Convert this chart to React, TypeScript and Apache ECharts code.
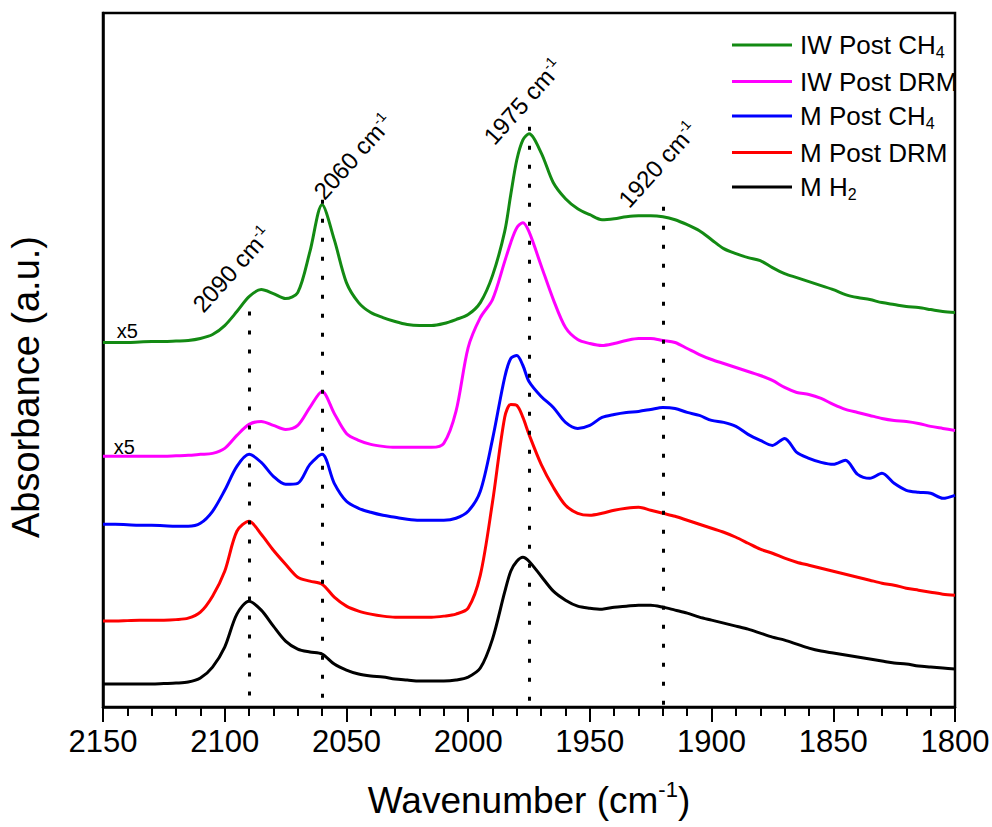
import React, { useEffect, useRef } from "react";
import * as echarts from "echarts";

// Wavenumber grid shared by all spectra (cm-1), high to low
const wavenumbers = [
  2150, 2145, 2140, 2135, 2130, 2125, 2120, 2115, 2110, 2105,
  2100, 2095, 2090, 2085, 2080, 2075, 2070, 2065, 2060, 2055,
  2050, 2045, 2040, 2035, 2030, 2025, 2020, 2015, 2010, 2005,
  2000, 1995, 1990, 1985, 1982.5, 1980, 1977.5, 1975, 1970, 1965,
  1960, 1955, 1950, 1945, 1940, 1935, 1930, 1925, 1920, 1915,
  1910, 1905, 1900, 1895, 1890, 1885, 1880, 1875, 1870, 1865,
  1860, 1855, 1850, 1845, 1840, 1835, 1830, 1825, 1820, 1815,
  1810, 1805, 1800,
];

// Offset absorbance traces (a.u.)
const iwPostCh4 = [
  0.730, 0.730, 0.730, 0.731, 0.732, 0.732, 0.733, 0.734, 0.738, 0.746,
  0.764, 0.792, 0.822, 0.836, 0.828, 0.818, 0.830, 0.912, 1.006, 0.936,
  0.850, 0.810, 0.790, 0.780, 0.772, 0.766, 0.764, 0.764, 0.768, 0.776,
  0.786, 0.810, 0.864, 0.952, 1.026, 1.096, 1.136, 1.148, 1.110, 1.050,
  1.018, 0.998, 0.986, 0.976, 0.978, 0.982, 0.984, 0.984, 0.982, 0.976,
  0.966, 0.954, 0.936, 0.918, 0.908, 0.900, 0.894, 0.880, 0.868, 0.860,
  0.852, 0.844, 0.836, 0.826, 0.820, 0.816, 0.810, 0.806, 0.802, 0.800,
  0.796, 0.792, 0.790,
];

const iwPostDrm = [
  0.502, 0.502, 0.502, 0.502, 0.502, 0.502, 0.503, 0.504, 0.506, 0.508,
  0.518, 0.544, 0.566, 0.572, 0.564, 0.556, 0.564, 0.600, 0.632, 0.588,
  0.548, 0.534, 0.526, 0.522, 0.520, 0.520, 0.520, 0.520, 0.528, 0.592,
  0.720, 0.780, 0.816, 0.892, 0.930, 0.960, 0.970, 0.952, 0.884, 0.816,
  0.760, 0.736, 0.728, 0.724, 0.728, 0.734, 0.738, 0.738, 0.734, 0.730,
  0.718, 0.706, 0.696, 0.688, 0.680, 0.672, 0.664, 0.654, 0.640, 0.630,
  0.626, 0.618, 0.606, 0.596, 0.590, 0.584, 0.578, 0.574, 0.572, 0.568,
  0.562, 0.558, 0.554,
];

const mPostCh4 = [
  0.366, 0.366, 0.365, 0.364, 0.364, 0.363, 0.362, 0.362, 0.368, 0.392,
  0.434, 0.482, 0.506, 0.490, 0.462, 0.446, 0.448, 0.486, 0.506, 0.448,
  0.412, 0.398, 0.390, 0.384, 0.380, 0.376, 0.374, 0.374, 0.374, 0.378,
  0.392, 0.432, 0.536, 0.660, 0.698, 0.704, 0.684, 0.652, 0.622, 0.600,
  0.570, 0.558, 0.564, 0.580, 0.586, 0.590, 0.592, 0.596, 0.600, 0.598,
  0.590, 0.584, 0.574, 0.570, 0.562, 0.546, 0.534, 0.524, 0.538, 0.510,
  0.498, 0.490, 0.486, 0.494, 0.466, 0.458, 0.468, 0.448, 0.434, 0.430,
  0.428, 0.418, 0.424,
];

const mPostDrm = [
  0.172, 0.172, 0.173, 0.174, 0.174, 0.174, 0.175, 0.178, 0.190, 0.222,
  0.272, 0.352, 0.372, 0.346, 0.314, 0.286, 0.260, 0.252, 0.246, 0.220,
  0.202, 0.192, 0.186, 0.182, 0.180, 0.180, 0.180, 0.180, 0.182, 0.186,
  0.198, 0.264, 0.410, 0.580, 0.606, 0.604, 0.580, 0.546, 0.486, 0.440,
  0.404, 0.388, 0.384, 0.388, 0.394, 0.398, 0.400, 0.394, 0.388, 0.382,
  0.374, 0.366, 0.358, 0.350, 0.340, 0.328, 0.316, 0.308, 0.298, 0.290,
  0.284, 0.278, 0.272, 0.266, 0.260, 0.254, 0.248, 0.244, 0.238, 0.234,
  0.230, 0.226, 0.224,
];

const mH2 = [
  0.046, 0.046, 0.046, 0.046, 0.046, 0.047, 0.048, 0.050, 0.058, 0.080,
  0.120, 0.186, 0.212, 0.194, 0.162, 0.132, 0.116, 0.110, 0.106, 0.086,
  0.074, 0.066, 0.062, 0.060, 0.056, 0.054, 0.052, 0.052, 0.052, 0.054,
  0.060, 0.078, 0.136, 0.230, 0.272, 0.292, 0.300, 0.292, 0.262, 0.232,
  0.214, 0.202, 0.198, 0.196, 0.200, 0.202, 0.204, 0.204, 0.200, 0.194,
  0.188, 0.180, 0.174, 0.168, 0.162, 0.156, 0.148, 0.140, 0.134, 0.126,
  0.118, 0.112, 0.108, 0.104, 0.100, 0.096, 0.092, 0.088, 0.086, 0.082,
  0.080, 0.078, 0.076,
];

// Legend entries: series name, main text, subscript
const seriesNames = ["IW Post CH4", "IW Post DRM", "M Post CH4", "M Post DRM", "M H2"];
const legendMain = ["IW Post CH", "IW Post DRM", "M Post CH", "M Post DRM", "M H"];
const legendSub = ["4", "", "4", "", "2"];
const seriesColors = ["#138a13", "#ff00ff", "#0000ff", "#ff0000", "#000000"];
const seriesValues = [iwPostCh4, iwPostDrm, mPostCh4, mPostDrm, mH2];

// Marked bands (cm-1) and the absorbance where each dotted guide starts
const bandPositions = [2090, 2060, 1975, 1920];
const bandTops = [0.792, 1.016, 1.162, 1.002];

// Scale-factor notes: which trace, and the wavenumber they sit at
const scaleNotes = ["x5", "x5"];
const scaleNoteSeries = [0, 1];
const scaleNoteAt = 2140;

const FONT = "'Liberation Sans', Arial, Helvetica, sans-serif";

// Pixel offsets of the band labels from the top of their guides
const bandLabelOffsets = [
  [-17, -42],
  [31, -43],
  [-6, -25],
  [-5, -42],
];
const scaleNoteOffsets = [
  [0, -12],
  [-3, -9],
];

export default function App() {
  const ref = useRef<HTMLDivElement>(null);

  useEffect(() => {
    if (!ref.current) return;
    const chart = echarts.init(ref.current, null, { renderer: "svg" });

    const lineSeries = seriesNames.map((name, si) => ({
      name,
      type: "line",
      data: wavenumbers.map((w, i) => [w, seriesValues[si][i]]),
      showSymbol: false,
      symbol: "none",
      smooth: 0.3,
      lineStyle: { color: seriesColors[si], width: 3 },
      itemStyle: { color: seriesColors[si] },
      z: 3,
    }));

    const guideSeries = {
      name: "bands",
      type: "line",
      data: [],
      silent: true,
      z: 4,
      markLine: {
        silent: true,
        symbol: ["none", "none"],
        label: { show: false },
        lineStyle: { color: "#000", width: 3, type: [4, 15], cap: "butt" },
        data: bandPositions.map((w, i) => [
          { coord: [w, bandTops[i]] },
          { coord: [w, 0] },
        ]),
      },
    };

    const option: any = {
      animation: false,
      backgroundColor: "#ffffff",
      grid: {
        left: 103,
        right: 37,
        top: 13,
        bottom: 120,
        show: true,
        borderColor: "#000",
        borderWidth: 2.5,
        outerBoundsMode: "none",
        containLabel: false,
      },
      legend: {
        orient: "vertical",
        left: 727,
        top: 27,
        itemWidth: 60,
        itemHeight: 3,
        itemGap: 8.5,
        icon: "rect",
        data: seriesNames,
        formatter: (name: string) => {
          const i = seriesNames.indexOf(name);
          return legendSub[i]
            ? `{n|${legendMain[i]}}{s|${legendSub[i]}}`
            : `{n|${legendMain[i]}}`;
        },
        textStyle: {
          fontFamily: FONT,
          fontSize: 26,
          color: "#000",
          padding: [0, 0, 0, 3],
          rich: {
            n: { fontFamily: FONT, fontSize: 26, color: "#000", lineHeight: 30 },
            s: {
              fontFamily: FONT,
              fontSize: 16,
              color: "#000",
              lineHeight: 11,
              verticalAlign: "bottom",
            },
          },
        },
      },
      xAxis: {
        type: "value",
        min: 1800,
        max: 2150,
        interval: 50,
        inverse: true,
        name: "{t|Wavenumber (cm}{p|-1}{t|)}",
        nameLocation: "middle",
        nameGap: 71,
        nameTextStyle: {
          rich: {
            t: { fontFamily: FONT, fontSize: 37, color: "#000", lineHeight: 44 },
            p: {
              fontFamily: FONT,
              fontSize: 22,
              color: "#000",
              lineHeight: 22,
              verticalAlign: "top",
            },
          },
        },
        axisLine: { show: true, lineStyle: { color: "#000", width: 2.5 } },
        axisTick: {
          show: true,
          inside: false,
          length: 15,
          lineStyle: { color: "#000", width: 2 },
        },
        minorTick: {
          show: true,
          splitNumber: 5,
          length: 9,
          lineStyle: { color: "#000", width: 2 },
        },
        axisLabel: {
          fontFamily: FONT,
          fontSize: 31,
          lineHeight: 36,
          color: "#000",
          margin: 16,
          formatter: (v: number) => String(v),
        },
        splitLine: { show: false },
      },
      yAxis: {
        type: "value",
        min: 0,
        max: 1.39,
        name: "Absorbance (a.u.)",
        nameLocation: "middle",
        nameGap: 58,
        nameTextStyle: {
          fontFamily: FONT,
          fontSize: 38,
          color: "#000",
          padding: [0, 54, 0, 0],
        },
        axisLine: { show: true, lineStyle: { color: "#000", width: 2.5 } },
        axisTick: { show: false },
        axisLabel: { show: false },
        splitLine: { show: false },
      },
      series: [...lineSeries, guideSeries],
    };

    chart.setOption(option);

    // Annotations placed from the data through the chart's own scales
    const graphics: any[] = [];
    bandPositions.forEach((w, i) => {
      const p = chart.convertToPixel({ xAxisIndex: 0, yAxisIndex: 0 }, [w, bandTops[i]]);
      if (!p) return;
      graphics.push({
        type: "text",
        x: p[0] + bandLabelOffsets[i][0],
        y: p[1] + bandLabelOffsets[i][1],
        rotation: (48 * Math.PI) / 180,
        silent: true,
        z: 10,
        style: {
          text: `{v|${w} cm}{e|-1}`,
          align: "center",
          verticalAlign: "middle",
          textAlign: "center",
          textVerticalAlign: "middle",
          rich: {
            v: { fontFamily: FONT, fontSize: 24, fill: "#000", lineHeight: 27 },
            e: {
              fontFamily: FONT,
              fontSize: 14,
              fill: "#000",
              lineHeight: 14,
              verticalAlign: "top",
            },
          },
        },
      });
    });
    scaleNotes.forEach((txt, i) => {
      const si = scaleNoteSeries[i];
      const idx = wavenumbers.indexOf(scaleNoteAt);
      const p = chart.convertToPixel({ xAxisIndex: 0, yAxisIndex: 0 }, [
        scaleNoteAt,
        seriesValues[si][idx],
      ]);
      if (!p) return;
      graphics.push({
        type: "text",
        x: p[0] + scaleNoteOffsets[i][0],
        y: p[1] + scaleNoteOffsets[i][1],
        silent: true,
        z: 10,
        style: {
          text: txt,
          fontFamily: FONT,
          fontSize: 20,
          fill: "#000",
          align: "center",
          verticalAlign: "middle",
          textAlign: "center",
          textVerticalAlign: "middle",
        },
      });
    });
    chart.setOption({ graphic: graphics });

    return () => {
      chart.dispose();
    };
  }, []);

  return (
    <div
      ref={ref}
      style={{ position: "absolute", left: 0, top: 0, width: 992, height: 827 }}
    />
  );
}
